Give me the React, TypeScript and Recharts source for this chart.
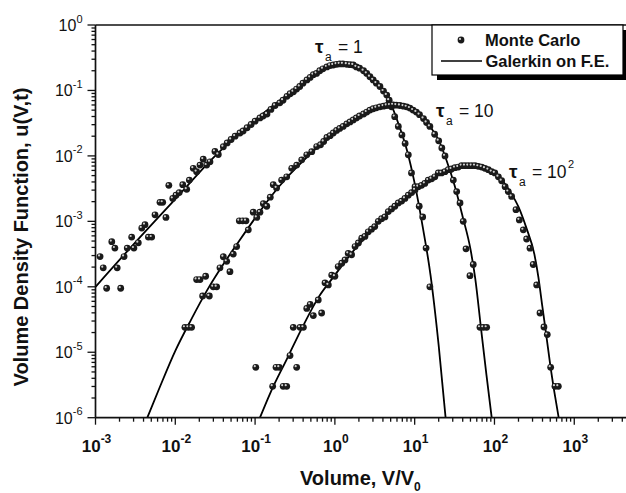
import React from 'react';
import { ComposedChart, XAxis, YAxis, Line, Scatter, ReferenceLine } from 'recharts';

type Pt = [number, number];

// Monte Carlo samples, [V/V0, u(V,t)]
const MC_TAU1: Pt[] = [
  [1.14e-3, 2.9e-4], [1.25e-3, 1.95e-4], [1.38e-3, 9.5e-5], [1.6e-3, 4.9e-4], [1.75e-3, 3.9e-4],
  [1.87e-3, 1.95e-4], [2.07e-3, 9.5e-5], [2.28e-3, 2.9e-4], [2.5e-3, 3.9e-4], [2.84e-3, 5.75e-4],
  [3.03e-3, 3.9e-4], [3.44e-3, 4.7e-4], [3.8e-3, 7.9e-4], [4.17e-3, 8.9e-4], [4.6e-3, 5.75e-4],
  [5.06e-3, 5.75e-4], [5.57e-3, 1.26e-3], [6.43e-3, 1.95e-3], [6.95e-3, 1.95e-3], [7.64e-3, 1.15e-3],
  [8.3e-3, 3.55e-3], [9.3e-3, 2.24e-3], [1.02e-2, 2.51e-3], [1.12e-2, 2.75e-3], [1.24e-2, 3.63e-3],
  [1.39e-2, 3.09e-3], [1.5e-2, 4.27e-3], [1.68e-2, 6.46e-3], [1.85e-2, 5.75e-3], [2.04e-2, 7.24e-3],
  [2.24e-2, 8.9e-3], [2.47e-2, 7.24e-3], [2.72e-2, 8.13e-3], [3.14e-2, 1.17e-2], [3.46e-2, 1.05e-2],
  [4.0e-2, 1.38e-2], [4.47e-2, 1.58e-2], [5.01e-2, 1.78e-2], [5.62e-2, 2.0e-2], [6.46e-2, 2.24e-2],
  [7.08e-2, 2.4e-2], [7.94e-2, 2.69e-2], [8.91e-2, 3.02e-2], [0.1, 3.39e-2], [0.115, 3.8e-2],
  [0.126, 4.07e-2], [0.141, 4.37e-2], [0.158, 5.13e-2], [0.178, 5.89e-2], [0.204, 6.46e-2],
  [0.224, 7.08e-2], [0.251, 8.13e-2], [0.275, 8.91e-2], [0.302, 9.55e-2], [0.331, 0.105],
  [0.363, 0.115], [0.398, 0.129], [0.447, 0.145], [0.49, 0.158], [0.537, 0.174],
  [0.589, 0.182], [0.646, 0.2], [0.708, 0.214], [0.794, 0.229], [0.871, 0.24],
  [0.955, 0.245], [1.05, 0.251], [1.15, 0.254], [1.26, 0.254], [1.41, 0.251],
  [1.55, 0.248], [1.7, 0.245], [1.86, 0.229], [2.04, 0.219], [2.29, 0.2],
  [2.51, 0.182], [2.75, 0.162], [3.02, 0.145], [3.31, 0.129], [3.67, 0.115],
  [4.07, 9.77e-2], [4.47, 8.51e-2], [4.79, 7.08e-2], [5.13, 5.62e-2], [5.62, 3.98e-2],
  [6.24, 2.82e-2], [6.92, 2.09e-2], [7.59, 1.55e-2], [8.32, 1.04e-2], [9.12, 5.5e-3],
  [10.1, 3.39e-3], [11.4, 1.7e-3], [12.6, 1.17e-3], [13.9, 3.9e-4], [15.5, 1.0e-4],
];

const MC_TAU10: Pt[] = [
  [1.32e-2, 2.4e-5], [1.46e-2, 2.4e-5], [1.6e-2, 2.4e-5], [1.85e-2, 1.29e-4], [2.04e-2, 1.29e-4],
  [2.2e-2, 7.24e-5], [2.4e-2, 1.45e-4], [2.67e-2, 7.24e-5], [2.99e-2, 1.0e-4], [3.3e-2, 1.0e-4],
  [3.63e-2, 1.95e-4], [4.0e-2, 2.88e-4], [4.41e-2, 2.45e-4], [4.84e-2, 1.7e-4], [5.33e-2, 3.16e-4],
  [5.87e-2, 4.12e-4], [6.34e-2, 1.02e-3], [7.0e-2, 1.02e-3], [7.69e-2, 1.02e-3], [8.22e-2, 7.41e-4],
  [9.48e-2, 1.38e-3], [0.105, 1.15e-3], [0.115, 1.38e-3], [0.127, 1.86e-3], [0.14, 1.7e-3],
  [0.155, 2.34e-3], [0.169, 3.63e-3], [0.186, 3.24e-3], [0.215, 4.27e-3], [0.249, 4.79e-3],
  [0.288, 6.46e-3], [0.332, 7.24e-3], [0.384, 8.71e-3], [0.444, 1.04e-2], [0.513, 1.16e-2],
  [0.592, 1.39e-2], [0.661, 1.48e-2], [0.724, 1.66e-2], [0.794, 1.91e-2], [0.871, 2.04e-2],
  [0.955, 2.24e-2], [1.05, 2.45e-2], [1.15, 2.63e-2], [1.27, 2.82e-2], [1.41, 3.09e-2],
  [1.55, 3.31e-2], [1.7, 3.55e-2], [1.86, 3.8e-2], [2.04, 4.07e-2], [2.29, 4.37e-2],
  [2.51, 4.68e-2], [2.75, 5.01e-2], [3.02, 5.25e-2], [3.31, 5.43e-2], [3.67, 5.62e-2],
  [4.07, 5.75e-2], [4.47, 5.89e-2], [4.9, 5.96e-2], [5.37, 6.03e-2], [5.89, 5.96e-2],
  [6.53, 5.89e-2], [7.24, 5.75e-2], [7.94, 5.62e-2], [8.71, 5.37e-2], [9.55, 5.01e-2],
  [10.5, 4.68e-2], [11.5, 4.27e-2], [12.9, 3.72e-2], [14.1, 3.24e-2], [15.5, 2.82e-2],
  [17.8, 2.14e-2], [20.0, 1.7e-2], [21.9, 1.32e-2], [24.0, 1.0e-2], [27.7, 6.17e-3],
  [30.5, 4.27e-3], [33.6, 2.85e-3], [37.0, 1.91e-3], [40.6, 1.0e-3], [44.0, 3.8e-4],
  [49.3, 1.48e-4], [54.2, 2.19e-4], [65.8, 2.4e-5], [72.4, 2.4e-5], [79.8, 2.4e-5],
];

const MC_TAU100: Pt[] = [
  [0.102, 5.89e-6], [0.166, 3.02e-6], [0.183, 5.89e-6], [0.201, 5.89e-6], [0.225, 3.02e-6],
  [0.249, 3.02e-6], [0.274, 8.91e-6], [0.301, 2.4e-5], [0.332, 5.89e-6], [0.366, 2.4e-5],
  [0.403, 2.4e-5], [0.444, 4.68e-5], [0.49, 5.37e-5], [0.537, 3.63e-5], [0.619, 6.31e-5],
  [0.682, 3.98e-5], [0.752, 1.15e-4], [0.828, 1.07e-4], [0.912, 1.51e-4], [1.0, 1.45e-4],
  [1.1, 2.04e-4], [1.22, 2.29e-4], [1.34, 2.57e-4], [1.47, 3.24e-4], [1.62, 3.09e-4],
  [1.79, 4.12e-4], [1.97, 4.68e-4], [2.17, 5.53e-4], [2.38, 5.89e-4], [2.62, 6.92e-4],
  [2.88, 7.59e-4], [3.16, 8.32e-4], [3.5, 1.0e-3], [3.85, 1.1e-3], [4.24, 1.17e-3],
  [4.67, 1.41e-3], [5.13, 1.55e-3], [5.65, 1.7e-3], [6.24, 1.91e-3], [6.86, 2.04e-3],
  [7.55, 2.24e-3], [8.32, 2.51e-3], [9.16, 2.75e-3], [10.1, 3.02e-3], [11.1, 3.39e-3],
  [12.2, 3.55e-3], [13.4, 3.8e-3], [14.8, 4.27e-3], [16.3, 4.47e-3], [17.9, 4.79e-3],
  [19.8, 5.5e-3], [21.7, 5.5e-3], [24.0, 5.75e-3], [26.4, 6.17e-3], [29.0, 6.31e-3],
  [32.0, 6.61e-3], [35.2, 6.76e-3], [38.8, 7.08e-3], [42.7, 7.08e-3], [47.0, 7.08e-3],
  [51.8, 7.08e-3], [57.0, 7.08e-3], [62.8, 6.92e-3], [69.2, 6.76e-3], [76.0, 6.46e-3],
  [83.8, 6.17e-3], [92.3, 5.75e-3], [101, 5.5e-3], [112, 4.79e-3], [123, 4.17e-3],
  [136, 3.39e-3], [149, 2.85e-3], [164, 2.4e-3], [186, 1.51e-3], [205, 1.05e-3],
  [230, 7.41e-4], [253, 5.37e-4], [279, 3.89e-4], [306, 2.19e-4], [338, 1.07e-4],
  [372, 3.98e-5], [417, 2.43e-5], [459, 1.86e-5], [506, 5.89e-6], [573, 3.02e-6],
  [631, 3.02e-6],
];

// Galerkin on finite elements, [V/V0, u(V,t)]
const FE_TAU1: Pt[] = [
  [0.001, 1.0e-4], [0.00316, 4.79e-4], [0.01, 2.19e-3], [0.0316, 1.0e-2], [0.1, 3.55e-2],
  [0.316, 0.105], [0.631, 0.2], [1.0, 0.24], [1.41, 0.254], [2.0, 0.229],
  [2.82, 0.166], [3.98, 0.101], [5.01, 0.0631], [6.31, 0.0302], [7.94, 0.0126],
  [10, 3.8e-3], [12.6, 8.3e-4], [15.8, 1.51e-4], [20.0, 1.26e-5], [24.4, 1e-6],
];

const FE_TAU10: Pt[] = [
  [0.00446, 1e-6], [0.00631, 2.82e-6], [0.01, 1.05e-5], [0.0158, 3.16e-5], [0.0251, 8.91e-5],
  [0.0398, 2.19e-4], [0.0631, 5.01e-4], [0.1, 1.12e-3], [0.158, 2.4e-3], [0.251, 4.68e-3],
  [0.398, 8.32e-3], [0.631, 1.41e-2], [1.0, 2.24e-2], [1.58, 3.39e-2], [2.51, 4.68e-2],
  [3.98, 5.75e-2], [5.62, 6.1e-2], [7.94, 5.62e-2], [11.2, 4.37e-2], [15.8, 2.75e-2],
  [20.0, 1.74e-2], [25.1, 8.51e-3], [31.6, 3.55e-3], [39.8, 1.2e-3], [50.1, 3.72e-4],
  [57.5, 1.32e-4], [67.6, 2.4e-5], [79.4, 4.47e-6], [92.3, 1e-6],
];

const FE_TAU100: Pt[] = [
  [0.115, 1e-6], [0.158, 2.51e-6], [0.251, 7.94e-6], [0.398, 2.51e-5], [0.631, 7.08e-5],
  [1.0, 1.51e-4], [1.58, 3.16e-4], [2.51, 6.03e-4], [3.98, 1.15e-3], [6.31, 1.91e-3],
  [10, 3.16e-3], [15.8, 4.47e-3], [25.1, 5.89e-3], [39.8, 7.08e-3], [56.2, 7.24e-3],
  [79.4, 6.61e-3], [112, 4.9e-3], [158, 2.82e-3], [200, 1.66e-3], [251, 7.94e-4],
  [316, 3.16e-4], [355, 1.41e-4], [398, 5.01e-5], [447, 1.78e-5], [501, 6.31e-6],
  [562, 2.51e-6], [638, 1e-6],
];

const X_DECADES = [-3, -2, -1, 0, 1, 2, 3];
const Y_DECADES = [-6, -5, -4, -3, -2, -1, 0];
const X_MAX = 4450;

const FONT = '"Liberation Sans", Arial, Helvetica, sans-serif';
const INK = '#111';

const toXY = (pts: Pt[]) => pts.map(([x, y]) => ({ x, y }));

// majors and 2..9 minors for each decade
function logTicks(decades: number[], max: number) {
  const out: number[] = [];
  decades.forEach((d) => {
    for (let m = 1; m <= 9; m++) {
      const v = m * Math.pow(10, d);
      if (v <= max * 1.0001) out.push(v);
    }
  });
  return out;
}

function decade(v: number) {
  const lg = Math.log10(v);
  const e = Math.round(lg);
  return { e, major: Math.abs(lg - e) < 1e-6 };
}

function XTick(props: any) {
  const { x, y, payload } = props;
  const { e, major } = decade(payload.value);
  return (
    <g>
      <line x1={x} x2={x} y1={y} y2={y + (major ? 7 : 4)} stroke={INK} strokeWidth={1.3} />
      {major && (
        <text x={x + 1} y={y + 34} textAnchor="middle" fontFamily={FONT} fontSize={17} fontWeight="bold" fill={INK}>
          10<tspan dy={-9} fontSize={12}>{e}</tspan>
        </text>
      )}
    </g>
  );
}

function YTick(props: any) {
  const { x, y, payload } = props;
  const { e, major } = decade(payload.value);
  return (
    <g>
      <line x1={x} x2={x - (major ? 8 : 4)} y1={y} y2={y} stroke={INK} strokeWidth={1.3} />
      {major && (
        <text x={x - 13} y={y + 6} textAnchor="end" fontFamily={FONT} fontSize={16} fill={INK}>
          10<tspan dy={-8.5} fontSize={11}>{e}</tspan>
        </text>
      )}
    </g>
  );
}

function Ball(props: any) {
  const { cx, cy } = props;
  if (cx == null || cy == null) return null;
  return (
    <g>
      <circle cx={cx} cy={cy} r={3.4} fill="#1a1a1a" />
      <circle cx={cx - 1} cy={cy - 1.1} r={1.1} fill="#cfcfcf" />
    </g>
  );
}

function TauLabel({ x, y, value, sup }: { x: number; y: number; value: string; sup?: string }) {
  return (
    <g fontFamily={FONT} fill={INK}>
      <text x={x} y={y} fontSize={19} fontWeight="bold">τ</text>
      <text x={x + 10} y={y + 8} fontSize={12}>a</text>
      <text x={x + 23} y={y} fontSize={17.5}>= {value}</text>
      {sup && <text x={x + 59} y={y - 10} fontSize={11}>{sup}</text>}
    </g>
  );
}

export default function App() {
  const xTicks = logTicks(X_DECADES, X_MAX);
  const yTicks = logTicks(Y_DECADES, 1);
  const W = 626;
  const H = 493;

  return (
    <div style={{ position: 'absolute', left: 0, top: 0, width: W, height: H, background: '#fff' }}>
      <ComposedChart width={W} height={H} margin={{ top: 25, right: 0, bottom: 0, left: 0 }}>
        <XAxis
          dataKey="x"
          type="number"
          scale="log"
          domain={[0.001, X_MAX]}
          allowDataOverflow
          ticks={xTicks}
          interval={0}
          tick={XTick}
          tickLine={false}
          tickSize={0}
          tickMargin={0}
          height={75.3}
          axisLine={{ stroke: INK, strokeWidth: 1.7 }}
        />
        <YAxis
          dataKey="y"
          type="number"
          scale="log"
          domain={[1e-6, 1]}
          allowDataOverflow
          ticks={yTicks}
          interval={0}
          tick={YTick}
          tickLine={false}
          tickSize={0}
          tickMargin={0}
          width={95.5}
          axisLine={{ stroke: INK, strokeWidth: 1.7 }}
        />
        <ReferenceLine y={1} stroke={INK} strokeWidth={1.7} />
        <Line data={toXY(FE_TAU1)} dataKey="y" type="monotone" stroke="#000" strokeWidth={1.8} dot={false} isAnimationActive={false} />
        <Line data={toXY(FE_TAU10)} dataKey="y" type="monotone" stroke="#000" strokeWidth={1.8} dot={false} isAnimationActive={false} />
        <Line data={toXY(FE_TAU100)} dataKey="y" type="monotone" stroke="#000" strokeWidth={1.8} dot={false} isAnimationActive={false} />
        <Scatter data={toXY(MC_TAU1)} dataKey="y" shape={Ball} isAnimationActive={false} />
        <Scatter data={toXY(MC_TAU10)} dataKey="y" shape={Ball} isAnimationActive={false} />
        <Scatter data={toXY(MC_TAU100)} dataKey="y" shape={Ball} isAnimationActive={false} />
      </ComposedChart>

      <svg width={W} height={H} style={{ position: 'absolute', left: 0, top: 0, pointerEvents: 'none' }}>
        {/* legend with drop shadow */}
        <rect x={437} y={30} width={191} height={50} fill="#000" />
        <rect x={432} y={25} width={191} height={50} fill="#fff" stroke="#000" strokeWidth={1.2} />
        <Ball cx={461} cy={40} />
        <text x={485} y={46} fontFamily={FONT} fontSize={16.5} fontWeight="bold" fill={INK}>Monte Carlo</text>
        <line x1={441} x2={482} y1={61} y2={61} stroke="#000" strokeWidth={1.6} />
        <text x={485.5} y={67} fontFamily={FONT} fontSize={16.5} fontWeight="bold" fill={INK}>Galerkin on F.E.</text>

        <TauLabel x={315} y={53} value="1" />
        <TauLabel x={436} y={117} value="10" />
        <TauLabel x={509} y={178} value="10" sup="2" />

        <text
          x={28}
          y={237}
          transform="rotate(-90 28 237)"
          textAnchor="middle"
          fontFamily={FONT}
          fontSize={20}
          fontWeight="bold"
          fill={INK}
        >
          Volume Density Function, u(V,t)
        </text>
        <text x={300} y={485} fontFamily={FONT} fontSize={20} fontWeight="bold" fill={INK}>
          Volume, V/V<tspan dy={6} fontSize={12}>0</tspan>
        </text>
      </svg>
    </div>
  );
}
